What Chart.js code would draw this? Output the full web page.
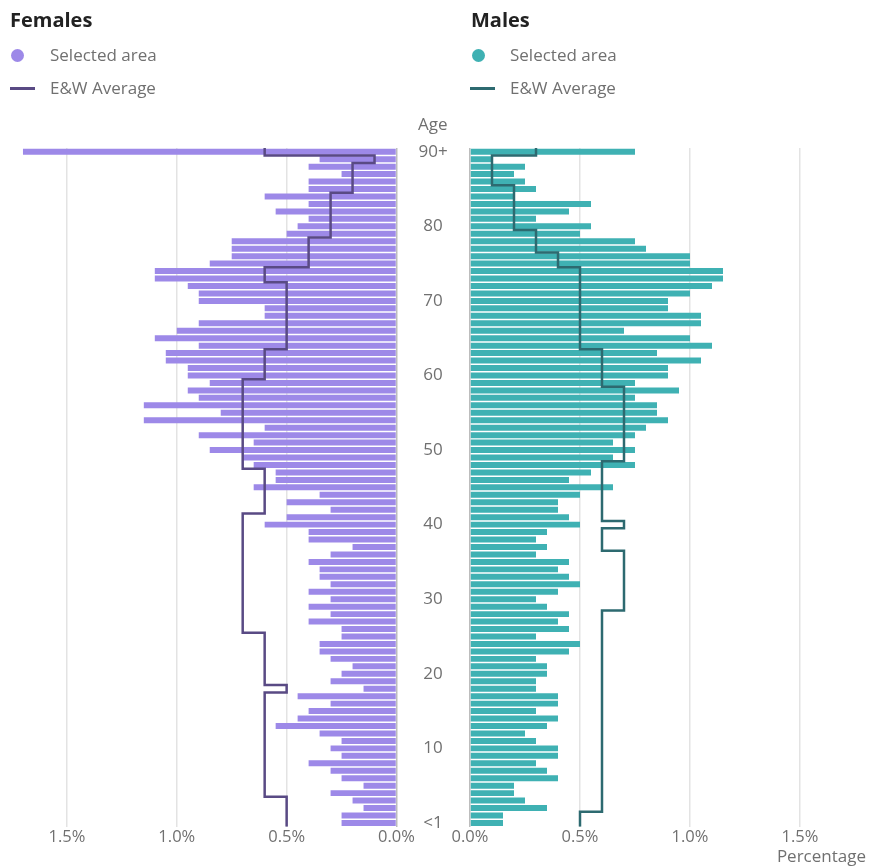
<!DOCTYPE html>
<html>
<head>
<meta charset="utf-8">
<script src="https://cdn.jsdelivr.net/npm/chart.js@4.4.1/dist/chart.umd.min.js"></script>
<style>
  body { margin: 0; background: #fff; font-family: "Open Sans", sans-serif; }
  #wrap { position: relative; width: 869px; height: 867px; overflow: hidden; }
  canvas { position: absolute; left: 0; top: 0; }
  .head { position: absolute; font-weight: bold; font-size: 20px; line-height: 20px; color: #222; }
  .item { position: absolute; font-size: 17px; line-height: 20px; color: #707070; white-space: nowrap; }
  .dot { position: absolute; width: 13px; height: 13px; border-radius: 50%; }
  .dash { position: absolute; width: 25px; height: 3px; }
</style>
</head>
<body>
<div id="wrap">
  <canvas id="females" width="869" height="867"></canvas>
  <canvas id="males" width="869" height="867"></canvas>

  <div class="head" style="left:10px; top:10px;">Females</div>
  <div class="dot" style="left:10.5px; top:48.5px; background:#9d89e8;"></div>
  <div class="item" style="left:50px; top:45px;">Selected area</div>
  <div class="dash" style="left:10px; top:86.5px; background:#594a84;"></div>
  <div class="item" style="left:50px; top:78px;">E&amp;W Average</div>

  <div class="head" style="left:471px; top:10px;">Males</div>
  <div class="dot" style="left:471.5px; top:48.5px; background:#3fb1b3;"></div>
  <div class="item" style="left:510px; top:45px;">Selected area</div>
  <div class="dash" style="left:470px; top:86.5px; background:#2d6a70;"></div>
  <div class="item" style="left:510px; top:78px;">E&amp;W Average</div>

  <div class="item" style="left:418px; top:114px;">Age</div>
</div>
<script>
// ages, index 0 = "<1", index 90 = "90+"
const ageLabels = ['<1', '1', '2', '3', '4', '5', '6', '7', '8', '9',
  '10', '11', '12', '13', '14', '15', '16', '17', '18', '19',
  '20', '21', '22', '23', '24', '25', '26', '27', '28', '29',
  '30', '31', '32', '33', '34', '35', '36', '37', '38', '39',
  '40', '41', '42', '43', '44', '45', '46', '47', '48', '49',
  '50', '51', '52', '53', '54', '55', '56', '57', '58', '59',
  '60', '61', '62', '63', '64', '65', '66', '67', '68', '69',
  '70', '71', '72', '73', '74', '75', '76', '77', '78', '79',
  '80', '81', '82', '83', '84', '85', '86', '87', '88', '89', '90+'];
const ageTicks = [0, 10, 20, 30, 40, 50, 60, 70, 80, 90];
const pctTicks = [0, 0.5, 1.0, 1.5];

// percentage of population per single year of age
const femaleSelected = [
  0.25, 0.25, 0.15, 0.20, 0.30, 0.15, 0.25, 0.30, 0.40, 0.25,
  0.30, 0.25, 0.35, 0.55, 0.45, 0.40, 0.30, 0.45, 0.15, 0.30,
  0.25, 0.20, 0.30, 0.35, 0.35, 0.25, 0.25, 0.40, 0.30, 0.40,
  0.30, 0.40, 0.30, 0.35, 0.35, 0.40, 0.30, 0.20, 0.40, 0.40,
  0.60, 0.50, 0.30, 0.50, 0.35, 0.65, 0.55, 0.55, 0.65, 0.70,
  0.85, 0.65, 0.90, 0.60, 1.15, 0.80, 1.15, 0.90, 0.95, 0.85,
  0.95, 0.95, 1.05, 1.05, 0.90, 1.10, 1.00, 0.90, 0.60, 0.60,
  0.90, 0.90, 0.95, 1.10, 1.10, 0.85, 0.75, 0.75, 0.75, 0.50,
  0.45, 0.40, 0.55, 0.40, 0.60, 0.40, 0.40, 0.25, 0.40, 0.35, 1.70];
const femaleAverage = [
  0.5, 0.5, 0.5, 0.5, 0.6, 0.6, 0.6, 0.6, 0.6, 0.6,
  0.6, 0.6, 0.6, 0.6, 0.6, 0.6, 0.6, 0.6, 0.5, 0.6,
  0.6, 0.6, 0.6, 0.6, 0.6, 0.6, 0.7, 0.7, 0.7, 0.7,
  0.7, 0.7, 0.7, 0.7, 0.7, 0.7, 0.7, 0.7, 0.7, 0.7,
  0.7, 0.7, 0.6, 0.6, 0.6, 0.6, 0.6, 0.6, 0.7, 0.7,
  0.7, 0.7, 0.7, 0.7, 0.7, 0.7, 0.7, 0.7, 0.7, 0.7,
  0.6, 0.6, 0.6, 0.6, 0.5, 0.5, 0.5, 0.5, 0.5, 0.5,
  0.5, 0.5, 0.5, 0.6, 0.6, 0.4, 0.4, 0.4, 0.4, 0.3,
  0.3, 0.3, 0.3, 0.3, 0.3, 0.2, 0.2, 0.2, 0.2, 0.1, 0.6];
const maleSelected = [
  0.15, 0.15, 0.35, 0.25, 0.20, 0.20, 0.40, 0.35, 0.30, 0.40,
  0.40, 0.30, 0.25, 0.35, 0.40, 0.30, 0.40, 0.40, 0.30, 0.30,
  0.35, 0.35, 0.30, 0.45, 0.50, 0.30, 0.45, 0.40, 0.45, 0.35,
  0.30, 0.40, 0.50, 0.45, 0.40, 0.45, 0.30, 0.35, 0.30, 0.35,
  0.50, 0.45, 0.40, 0.40, 0.50, 0.65, 0.45, 0.55, 0.75, 0.65,
  0.75, 0.65, 0.75, 0.80, 0.90, 0.85, 0.85, 0.75, 0.95, 0.75,
  0.90, 0.90, 1.05, 0.85, 1.10, 1.00, 0.70, 1.05, 1.05, 0.90,
  0.90, 1.00, 1.10, 1.15, 1.15, 1.00, 1.00, 0.80, 0.75, 0.50,
  0.55, 0.30, 0.45, 0.55, 0.20, 0.30, 0.25, 0.20, 0.25, 0.10, 0.75];
const maleAverage = [
  0.5, 0.5, 0.6, 0.6, 0.6, 0.6, 0.6, 0.6, 0.6, 0.6,
  0.6, 0.6, 0.6, 0.6, 0.6, 0.6, 0.6, 0.6, 0.6, 0.6,
  0.6, 0.6, 0.6, 0.6, 0.6, 0.6, 0.6, 0.6, 0.6, 0.7,
  0.7, 0.7, 0.7, 0.7, 0.7, 0.7, 0.7, 0.6, 0.6, 0.6,
  0.7, 0.6, 0.6, 0.6, 0.6, 0.6, 0.6, 0.6, 0.6, 0.7,
  0.7, 0.7, 0.7, 0.7, 0.7, 0.7, 0.7, 0.7, 0.7, 0.6,
  0.6, 0.6, 0.6, 0.6, 0.5, 0.5, 0.5, 0.5, 0.5, 0.5,
  0.5, 0.5, 0.5, 0.5, 0.5, 0.4, 0.4, 0.3, 0.3, 0.3,
  0.2, 0.2, 0.2, 0.2, 0.2, 0.2, 0.1, 0.1, 0.1, 0.1, 0.3];

const greyText = '#707070';
Chart.defaults.font.family = '"Open Sans", sans-serif';
Chart.defaults.color = greyText;

// average is drawn as a step: each age covers its whole band
function stepPoints(avg) {
  const pts = [];
  avg.forEach((v, i) => {
    pts.push({ x: v, y: i - 0.5 });
    pts.push({ x: v, y: i + 0.5 });
  });
  return pts;
}

function drawSide(id, selected, average, barColor, lineColor, female) {
  const ctx = document.getElementById(id).getContext('2d');
  return new Chart(ctx, {
    type: 'bar',
    data: {
      datasets: [
        {
          type: 'line',
          indexAxis: 'y',
          data: stepPoints(average),
          borderColor: lineColor,
          borderWidth: 2.5,
          borderJoinStyle: 'miter',
          pointRadius: 0,
          tension: 0,
          fill: false,
          order: 0
        },
        {
          type: 'bar',
          data: selected.map((v, i) => ({ x: v, y: i })),
          backgroundColor: barColor,
          barPercentage: 0.8,
          categoryPercentage: 1,
          order: 1
        }
      ]
    },
    options: {
      responsive: false,
      animation: false,
      events: [],
      indexAxis: 'y',
      layout: {
        padding: female
          ? { left: 1, right: 399, top: 148, bottom: 0 }
          : { left: 470, right: 3, top: 148, bottom: 0 }
      },
      plugins: { legend: { display: false }, tooltip: { enabled: false } },
      scales: {
        x: {
          type: 'linear',
          reverse: female,
          min: 0,
          max: 1.8,
          afterBuildTicks: (s) => { s.ticks = pctTicks.map(v => ({ value: v })); },
          afterFit: (s) => { s.height = 40.3; },
          grid: {
            drawTicks: false,
            color: (c) => (c.tick && c.tick.value === 0 ? '#bdbdbd' : '#e3e3e3'),
            lineWidth: 1.5
          },
          border: { display: false },
          ticks: {
            padding: 1,
            color: greyText,
            font: { size: 16.5 },
            callback: (v) => v.toFixed(1) + '%'
          },
          title: {
            display: !female,
            text: 'Percentage',
            align: 'end',
            color: greyText,
            font: { size: 17 },
            padding: { top: 0, bottom: 0 }
          }
        },
        y: {
          type: 'linear',
          display: female,
          offset: false,
          position: 'right',
          min: -0.5,
          max: 90.5,
          afterBuildTicks: (s) => { s.ticks = ageTicks.map(v => ({ value: v })); },
          afterFit: (s) => { s.width = female ? 73.5 : 0; },
          grid: { display: false, drawTicks: false, offset: false },
          border: { display: false },
          ticks: {
            autoSkip: false,
            crossAlign: 'center',
            padding: 22,
            color: greyText,
            font: { size: 17 },
            callback: (v) => ageLabels[v]
          }
        }
      }
    }
  });
}

drawSide('females', femaleSelected, femaleAverage, '#9d89e8', '#594a84', true);
drawSide('males', maleSelected, maleAverage, '#3fb1b3', '#2d6a70', false);
</script>
</body>
</html>
